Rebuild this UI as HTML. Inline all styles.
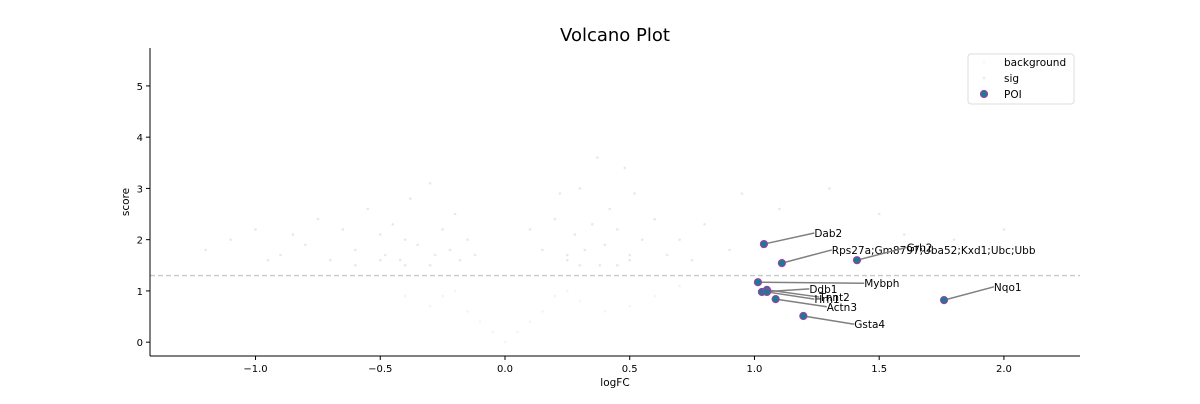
<!DOCTYPE html>
<html><head><meta charset="utf-8"><style>
body{margin:0;background:#fff;font-family:"DejaVu Sans","Liberation Sans",sans-serif}
svg text{font-family:"DejaVu Sans","Liberation Sans",sans-serif}
</style></head><body>
<svg id="chart" width="1200" height="400" xmlns="http://www.w3.org/2000/svg">
<text x="615" y="41" font-size="18" text-anchor="middle">Volcano Plot</text>
<g id="bg"></g>
<g id="sig"></g>
<line id="thr" stroke="#c8c8c8" stroke-width="1.3" stroke-dasharray="5,3"/>
<g id="labels"></g>
<g id="poi"></g>
<g id="axes"></g>
<text x="615" y="386" font-size="10.5" text-anchor="middle">logFC</text>
<text x="129" y="202" font-size="10.5" text-anchor="middle" transform="rotate(-90 129 202)">score</text>
<g>
<rect x="968" y="54" width="106" height="50" rx="3" fill="#fff" stroke="#ddd"/>
<circle cx="984" cy="62" r="1.5" fill="#f7f7f7"/>
<text x="1004" y="66" font-size="10.5">background</text>
<circle cx="984" cy="78" r="1.5" fill="#eeeeee"/>
<text x="1004" y="82" font-size="10.5">sig</text>
<circle cx="984" cy="94" r="3.6" fill="#1f7a8c" stroke="#a23bb0" stroke-width="1"/>
<text x="1004" y="98" font-size="10.5">POI</text>
</g>
</svg>
<script>
const poiNames=["Dab2","Rps27a;Gm8797;Uba52;Kxd1;Ubc;Ubb","Grb2","Mybph","Ddb1","Tnnt2","Hrh1","Actn3","Gsta4","Nqo1"];
const poiX=[1.038,1.110,1.411,1.014,1.03,1.05,1.05,1.085,1.196,1.76];
const poiY=[1.914,1.543,1.60,1.17,0.98,1.02,0.98,0.84,0.51,0.82];
const labelX=[1.24,1.31,1.61,1.44,1.22,1.26,1.24,1.29,1.40,1.96];
const labelY=[2.13,1.80,1.85,1.15,1.04,0.88,0.84,0.69,0.35,1.08];
const sigX=[-1.2,-1.1,-1.0,-0.95,-0.9,-0.85,-0.8,-0.75,-0.7,-0.65,-0.6,-0.55,-0.5,-0.48,-0.45,-0.42,-0.4,-0.38,-0.35,-0.3,-0.28,-0.25,-0.22,-0.2,-0.18,-0.15,-0.12,0.1,0.15,0.2,0.22,0.25,0.28,0.3,0.32,0.35,0.37,0.4,0.42,0.45,0.48,0.5,0.52,0.55,0.6,0.65,0.7,0.75,0.8,0.9,0.95,1.1,1.3,1.5,1.6,1.8,2.0,-0.6,-0.4,-0.3,0.3,0.38,0.45,-0.5,0.25,0.5];
const sigY=[1.8,2.0,2.2,1.6,1.7,2.1,1.9,2.4,1.6,2.2,1.8,2.6,2.1,1.7,2.3,1.6,2.0,2.8,1.9,3.1,1.7,2.2,1.8,2.5,1.6,2.0,1.7,2.2,1.8,2.4,2.9,1.7,2.1,3.0,1.8,2.3,3.6,1.9,2.6,2.2,3.4,1.7,2.9,2.0,2.4,1.7,2.0,1.6,2.3,1.8,2.9,2.6,3.0,2.5,2.1,2.0,2.2,1.5,1.5,1.5,1.5,1.5,1.5,1.6,1.6,1.6];
const bgX=[-0.3,-0.25,-0.2,-0.15,-0.1,-0.05,0,0.05,0.1,0.15,0.2,0.25,0.3,0.4,0.5,0.6,0.7,-0.4];
const bgY=[0.7,0.9,1.0,0.6,0.4,0.2,0.0,0.2,0.4,0.6,0.9,1.0,0.8,0.6,0.7,0.9,1.1,0.9];
const xTicks=[-1.0,-0.5,0.0,0.5,1.0,1.5,2.0];
const xTickLabels=["−1.0","−0.5","0.0","0.5","1.0","1.5","2.0"];
const yTicks=[0,1,2,3,4,5];
const threshold=1.3;
const X0=150,X1=1080,Y0=48,Y1=356,xmin=-1.423,xmax=2.305,ymin=-0.27,ymax=5.74;
const sx=v=>X0+(v-xmin)/(xmax-xmin)*(X1-X0);
const sy=v=>Y1-(v-ymin)/(ymax-ymin)*(Y1-Y0);
const NS="http://www.w3.org/2000/svg";
function mk(tag,attrs,parent){const e=document.createElementNS(NS,tag);for(const k in attrs)e.setAttribute(k,attrs[k]);parent.appendChild(e);return e;}
const bg=document.getElementById('bg');
bgX.forEach((v,i)=>{const c=mk('circle',{cx:sx(v),cy:sy(bgY[i]),r:1.3,fill:'#f4f4f4'},bg);

});
const sg=document.getElementById('sig');
sigX.forEach((v,i)=>{const c=mk('circle',{cx:sx(v),cy:sy(sigY[i]),r:1.3,fill:'#e8e8e8'},sg);

});
const thr=document.getElementById('thr');
thr.setAttribute('x1',X0);thr.setAttribute('x2',X1);thr.setAttribute('y1',sy(threshold));thr.setAttribute('y2',sy(threshold));
const lg=document.getElementById('labels'),pg=document.getElementById('poi');
poiNames.forEach((n,i)=>{
const l=mk('line',{x1:sx(poiX[i]),y1:sy(poiY[i]),x2:sx(labelX[i]),y2:sy(labelY[i]),stroke:'#808080','stroke-width':1.5},lg);


const t=mk('text',{x:sx(labelX[i]),y:sy(labelY[i])+4,'font-size':10.5},lg);t.textContent=n;


const c=mk('circle',{cx:sx(poiX[i]),cy:sy(poiY[i]),r:3.6,fill:'#1f7a8c',stroke:'#a23bb0','stroke-width':1},pg);


});
const ax=document.getElementById('axes');
const la=mk('line',{x1:X0,y1:Y0,x2:X0,y2:Y1,stroke:'#000','stroke-width':1},ax);


const ba=mk('line',{x1:X0,y1:Y1,x2:X1,y2:Y1,stroke:'#000','stroke-width':1},ax);


xTicks.forEach((v,i)=>{mk('line',{x1:sx(v),x2:sx(v),y1:Y1,y2:Y1+4,stroke:'#000'},ax);
const t=mk('text',{x:sx(v),y:Y1+16,'font-size':10,'text-anchor':'middle'},ax);t.textContent=xTickLabels[i];

});
yTicks.forEach(v=>{mk('line',{x1:X0-4,x2:X0,y1:sy(v),y2:sy(v),stroke:'#000'},ax);
const t=mk('text',{x:X0-7,y:sy(v)+4,'font-size':10,'text-anchor':'end'},ax);t.textContent=v;

});
</script>
</body></html>
